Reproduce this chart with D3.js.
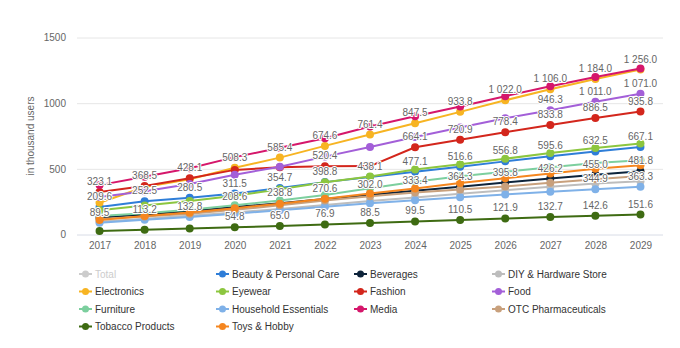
<!DOCTYPE html>
<html><head><meta charset="utf-8">
<script src="https://cdn.jsdelivr.net/npm/d3@7"></script>
<style>body{margin:0;background:#fff;} text{font-family:"Liberation Sans",Arial,sans-serif;}</style>
</head><body><svg id="chart" width="680" height="348"></svg>
<script>
// ---- data ----
const years = [2017,2018,2019,2020,2021,2022,2023,2024,2025,2026,2027,2028,2029];
const yTicks = [0,500,1000,1500];
const yTitle = "in thousand users";

const beauty      = [209.6,252.5,280.5,311.5,354.7,398.8,438.1,477.1,516.6,556.8,595.6,632.5,667.1];
const beverages   = [128,152,178,208.6,238.8,270.6,302.0,333.4,364.3,395.8,426.2,455.0,481.8];
const diy         = [97,120,143,168,195,225,255,282,310,337,363,388,405];
const electronics = [242,362,420,508.3,585.4,674.6,761.4,847.5,933.8,1022.0,1106.0,1184.0,1256.0];
const eyewear     = [185,220,255,295,345,398,442,495,535,577,620,658,693];
const fashion     = [323.1,368.5,428.1,492,512,520.4,521,664.1,720.9,778.4,833.8,886.5,935.8];
const food        = [285,330,385,455,516,593,666,742,815,885,946.3,1011.0,1071.0];
const furniture   = [140,162,188,222,258,300,352,402,444,478,512,545,565];
const household   = [89.5,113.2,132.8,158,185,212,238,261,283,305,326,344.9,363.3];
const media       = [376,440,505,589,660,733,822,900,975,1053,1129,1200,1264];
const otc         = [118,137,158,188,222,258,292,320,342,366,394,420,445];
const tobacco     = [27.5,36.0,45.1,54.8,65.0,76.9,88.5,99.5,110.5,121.9,132.7,142.6,151.6];
const toys        = [110,140,168,200,235,272,312,350,392,428,465,500,528];

// years whose value label is visible, per series
const beautyLabelYears      = [2017,2018,2019,2020,2021,2022,2023,2024,2025,2026,2027,2028,2029];
const beveragesLabelYears   = [2020,2021,2022,2023,2024,2025,2026,2027,2028,2029];
const electronicsLabelYears = [2020,2021,2022,2023,2024,2025,2026,2027,2028,2029];
const fashionLabelYears     = [2017,2018,2019,2022,2024,2025,2026,2027,2028,2029];
const foodLabelYears        = [2027,2028,2029];
const householdLabelYears   = [2017,2018,2019,2028,2029];
const tobaccoLabelYears     = [2020,2021,2022,2023,2024,2025,2026,2027,2028,2029];

const legendNames = ["Total","Beauty & Personal Care","Beverages","DIY & Hardware Store",
  "Electronics","Eyewear","Fashion","Food","Furniture","Household Essentials","Media",
  "OTC Pharmaceuticals","Tobacco Products","Toys & Hobby"];
const legendHidden = ["Total"];

const series = [
  {name:"Beauty & Personal Care", values:beauty, labelYears:beautyLabelYears},
  {name:"Beverages", values:beverages, labelYears:beveragesLabelYears},
  {name:"DIY & Hardware Store", values:diy, labelYears:[]},
  {name:"Electronics", values:electronics, labelYears:electronicsLabelYears},
  {name:"Eyewear", values:eyewear, labelYears:[]},
  {name:"Fashion", values:fashion, labelYears:fashionLabelYears},
  {name:"Food", values:food, labelYears:foodLabelYears},
  {name:"Furniture", values:furniture, labelYears:[]},
  {name:"Household Essentials", values:household, labelYears:householdLabelYears},
  {name:"Media", values:media, labelYears:[]},
  {name:"OTC Pharmaceuticals", values:otc, labelYears:[]},
  {name:"Tobacco Products", values:tobacco, labelYears:tobaccoLabelYears},
  {name:"Toys & Hobby", values:toys, labelYears:[]}
];

// ---- styles ----
const colors = {
  "Total":"#cccccc",
  "Beauty & Personal Care":"#2f7ed8",
  "Beverages":"#0d233a",
  "DIY & Hardware Store":"#bdbdbd",
  "Electronics":"#f7b422",
  "Eyewear":"#8cc63f",
  "Fashion":"#d3261c",
  "Food":"#a35fd8",
  "Furniture":"#7ccf9e",
  "Household Essentials":"#7fb1e8",
  "Media":"#d5176b",
  "OTC Pharmaceuticals":"#c8a07c",
  "Tobacco Products":"#3e6b12",
  "Toys & Hobby":"#f5861f"
};

const svg = d3.select("#chart");
const margin = {left:77, right:17, top:37.5, bottom:113.5};
const W = 680, H = 348;

const x = d3.scalePoint().domain(years).range([margin.left, W - margin.right]).padding(0.5);
const y = d3.scaleLinear().domain([0,1500]).range([H - margin.bottom, margin.top]);

const fmt = d3.formatLocale({decimal:".", thousands:"\u00a0", grouping:[3], currency:["",""]}).format(",.1f");

// gridlines
const yAxis = d3.axisLeft(y).tickValues(yTicks).tickSize(-(W - margin.left - margin.right)).tickPadding(11).tickFormat(d3.format("d"));
const gy = svg.append("g").attr("transform", `translate(${margin.left},0)`).call(yAxis);
gy.select(".domain").remove();
gy.selectAll(".tick line").attr("stroke", d => d === 0 ? "#d8dce6" : "#e6e6e6");
gy.selectAll(".tick text").attr("fill","#666").attr("font-size","10px").attr("font-family","Liberation Sans, Arial, sans-serif");

const xAxis = d3.axisBottom(x).tickSize(0).tickPadding(7);
const gx = svg.append("g").attr("transform", `translate(0,${y(0)})`).call(xAxis);
gx.select(".domain").remove();
gx.selectAll(".tick text").attr("fill","#666").attr("font-size","10px").attr("font-family","Liberation Sans, Arial, sans-serif");

svg.append("text").attr("transform", `translate(31,${(y(0)+y(1500))/2}) rotate(-90)`)
  .attr("text-anchor","middle").attr("dominant-baseline","middle")
  .attr("fill","#666").attr("font-size","10px").text(yTitle);

// lines
const line = d3.line().x((d,i) => x(years[i])).y(d => y(d));
const gs = svg.append("g");
series.forEach(s => {
  const g = gs.append("g");
  g.append("path").attr("d", line(s.values)).attr("fill","none")
    .attr("stroke", colors[s.name]).attr("stroke-width",2).attr("stroke-linejoin","round");
  g.selectAll("circle").data(s.values).join("circle")
    .attr("cx",(d,i)=>x(years[i])).attr("cy",d=>y(d)).attr("r",4)
    .attr("fill", colors[s.name]);
});

// data labels
const gl = svg.append("g");
series.forEach(s => {
  s.labelYears.forEach(yr => {
    const i = years.indexOf(yr);
    const v = s.values[i];
    gl.append("text").attr("x", x(yr)).attr("y", y(v) - 7)
      .attr("text-anchor","middle").attr("font-size","10px").attr("fill","#666")
      .attr("stroke","#fff").attr("stroke-width",2).attr("stroke-linejoin","round")
      .attr("paint-order","stroke")
      .text(fmt(v));
  });
});

// legend
const lg = svg.append("g");
const colX = [79,216,354,492];
const rowY = [274,291.5,309,326.5];
legendNames.forEach((n,i) => {
  const cx = colX[i % 4], cy = rowY[Math.floor(i/4)];
  const hidden = legendHidden.includes(n);
  const c = hidden ? "#cccccc" : colors[n];
  const g = lg.append("g");
  g.append("line").attr("x1",cx).attr("x2",cx+13).attr("y1",cy).attr("y2",cy).attr("stroke",c).attr("stroke-width",2);
  g.append("circle").attr("cx",cx+6.5).attr("cy",cy).attr("r",3.5).attr("fill",c);
  g.append("text").attr("x",cx+16).attr("y",cy).attr("dominant-baseline","central")
    .attr("font-size","10px").attr("fill", hidden ? "#cccccc" : "#333").text(n);
});
</script></body></html>
